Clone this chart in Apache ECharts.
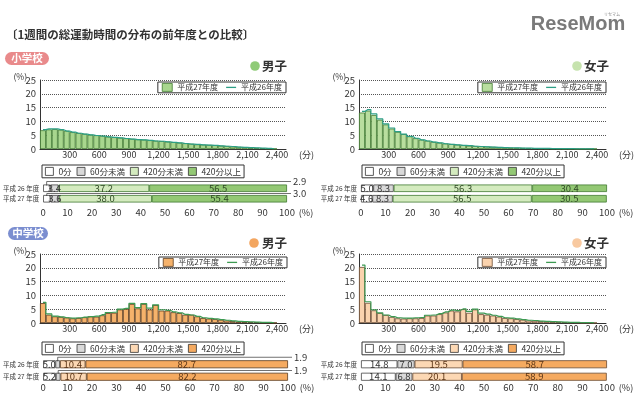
<!DOCTYPE html>
<html>
<head>
<meta charset="utf-8">
<script src="https://cdn.jsdelivr.net/npm/echarts@6/dist/echarts.min.js"></script>
<style>
  html, body { margin: 0; padding: 0; background: #fff; }
  #chart { width: 640px; height: 398px; }
</style>
</head>
<body>
<div id="chart"></div>
<script>
const FONT = '"Noto Sans CJK JP", "Noto Sans", sans-serif';
const BIN_MIN = 60;

// % of pupils per 60-minute bin of weekly exercise time (H27 bars, H26 line)
const elemBoys27 = [6.8, 7.1, 7.2, 7.0, 6.6, 6.1, 5.8, 5.5, 5.2, 5.0, 4.8, 4.5, 4.3, 4.1, 3.9, 3.7, 3.5, 3.4, 3.2, 3.0,
  2.9, 2.7, 2.5, 2.3, 2.1, 1.9, 1.7, 1.6, 1.5, 1.4, 1.2, 1.1, 0.9, 0.8, 0.7, 0.5, 0.4, 0.3, 0.2, 0.1];
const elemBoys26 = [7.0, 7.3, 7.3, 7.0, 6.5, 6.1, 5.7, 5.4, 5.1, 4.9, 4.7, 4.4, 4.2, 4.0, 3.8, 3.6, 3.4, 3.3, 3.1, 2.9,
  2.8, 2.6, 2.4, 2.2, 2.0, 1.8, 1.7, 1.5, 1.4, 1.3, 1.1, 1.0, 0.9, 0.7, 0.6, 0.5, 0.4, 0.3, 0.2, 0.1];
const elemGirls27 = [13.2, 13.9, 12.3, 10.6, 8.9, 7.4, 6.2, 5.4, 4.6, 3.9, 3.4, 3.0, 2.6, 2.3, 2.0, 1.8, 1.6, 1.4, 1.2, 1.1,
  1.0, 0.9, 0.8, 0.7, 0.6, 0.5, 0.45, 0.4, 0.35, 0.3, 0.25, 0.2, 0.2, 0.15, 0.1, 0.1, 0.05, 0.05, 0.05, 0.05];
const elemGirls26 = [13.6, 14.3, 12.7, 10.9, 9.1, 7.6, 6.3, 5.4, 4.6, 3.9, 3.3, 2.9, 2.5, 2.2, 1.9, 1.7, 1.5, 1.3, 1.2, 1.0,
  0.9, 0.8, 0.7, 0.6, 0.5, 0.45, 0.4, 0.35, 0.3, 0.25, 0.2, 0.2, 0.15, 0.1, 0.1, 0.1, 0.05, 0.05, 0.05, 0.05];
const juniorBoys27 = [7.2, 3.0, 2.4, 2.2, 2.0, 1.7, 1.8, 2.1, 2.4, 2.3, 2.8, 3.6, 3.7, 4.9, 5.1, 6.9, 5.3, 6.9, 4.9, 6.5,
  4.5, 4.5, 3.9, 3.6, 3.0, 3.0, 2.4, 1.8, 1.6, 1.4, 1.2, 0.9, 0.7, 0.5, 0.4, 0.3, 0.3, 0.2, 0.2, 0.1];
const juniorBoys26 = [7.5, 3.3, 2.5, 2.2, 1.9, 1.8, 1.9, 2.1, 2.3, 2.5, 3.0, 3.8, 3.9, 5.0, 5.3, 7.1, 5.6, 7.0, 5.4, 6.6,
  4.8, 4.6, 4.0, 3.7, 3.1, 2.9, 2.4, 1.9, 1.7, 1.5, 1.2, 1.0, 0.8, 0.6, 0.5, 0.4, 0.3, 0.2, 0.2, 0.1];
const juniorGirls27 = [20.3, 7.3, 4.6, 3.6, 2.9, 2.2, 1.7, 1.6, 1.7, 1.7, 1.8, 2.7, 2.7, 3.2, 3.8, 4.5, 4.2, 5.0, 3.7, 4.9,
  3.2, 3.0, 2.7, 2.3, 1.8, 1.7, 1.4, 1.2, 0.9, 0.8, 0.7, 0.6, 0.5, 0.4, 0.3, 0.2, 0.2, 0.1, 0.1, 0.05];
const juniorGirls26 = [21.0, 7.7, 4.8, 3.7, 2.9, 2.3, 1.9, 1.8, 1.8, 1.9, 2.0, 2.8, 2.9, 3.4, 4.0, 4.7, 4.5, 5.1, 4.2, 5.0,
  3.6, 3.2, 2.8, 2.4, 1.9, 1.8, 1.5, 1.2, 1.0, 0.9, 0.7, 0.6, 0.5, 0.4, 0.3, 0.2, 0.2, 0.1, 0.1, 0.05];

// share of pupils by weekly total, [H26, H27] per part
const shareRows = ['平成 26 年度', '平成 27 年度'];
const shareParts = ['0分', '60分未満', '420分未満', '420分以上'];
const elemBoysShare = [[2.9, 3.0], [3.4, 3.6], [37.2, 38.0], [56.5, 55.4]];
const elemGirlsShare = [[5.0, 4.6], [8.3, 8.3], [56.3, 56.5], [30.4, 30.5]];
const juniorBoysShare = [[5.0, 5.2], [1.9, 1.9], [10.4, 10.7], [82.7, 82.2]];
const juniorGirlsShare = [[14.8, 14.1], [7.0, 6.8], [19.5, 20.1], [58.7, 58.9]];

const yearNames = ['平成27年度', '平成26年度'];

const greenParts = ['#ffffff', '#d9d9d9', '#d4ebbf', '#93c874'];
const orangeParts = ['#ffffff', '#d9d9d9', '#fcd8b4', '#f5aa60'];

const panels = [
  { id: 'em', h27: elemBoys27, h26: elemBoys26, share: elemBoysShare,
    bar: '#a8d68e', edge: '#3f7a2f', line: '#2d9f86', parts: greenParts, txt: '#2f4a25',
    hist: { left: 40, top: 80, width: 246, height: 69 }, stack: { left: 43, top: 183, width: 244, height: 21 }, barH: 7.5,
    stackMargin: 4, histLegend: { right: 354, top: 82 }, stackLegend: { left: 42, top: 165 } },
  { id: 'ef', h27: elemGirls27, h26: elemGirls26, share: elemGirlsShare,
    bar: '#b9de9f', edge: '#3f7a2f', line: '#2d9f86', parts: greenParts, txt: '#2f4a25',
    hist: { left: 359, top: 80, width: 247, height: 69 }, stack: { left: 361, top: 183, width: 246, height: 21 }, barH: 7.5,
    stackMargin: 4, histLegend: { right: 34, top: 82 }, stackLegend: { left: 362, top: 165 } },
  { id: 'jm', h27: juniorBoys27, h26: juniorBoys26, share: juniorBoysShare,
    bar: '#f5b26b', edge: '#5b3a1c', line: '#3d9a52', parts: orangeParts, txt: '#5a3416',
    hist: { left: 40, top: 254, width: 246, height: 69 }, stack: { left: 43, top: 358, width: 245, height: 25 }, barH: 8,
    stackMargin: 0, histLegend: { right: 353, top: 257 }, stackLegend: { left: 42, top: 342 } },
  { id: 'jf', h27: juniorGirls27, h26: juniorGirls26, share: juniorGirlsShare,
    bar: '#fad3ae', edge: '#6b4a30', line: '#3d9a52', parts: orangeParts, txt: '#5a3416',
    hist: { left: 359, top: 254, width: 247, height: 69 }, stack: { left: 361, top: 358, width: 246, height: 25 }, barH: 8,
    stackMargin: 0, histLegend: { right: 34, top: 257 }, stackLegend: { left: 362, top: 342 } }
];

const grid = [], xAxis = [], yAxis = [], series = [], legend = [];
const stripName = n => n.split('|')[1];
const LINE_ICON = 'path://M0,0H10V1.3H0Z';

panels.forEach((p, n) => {
  const hg = n * 2, sg = n * 2 + 1;
  grid.push(Object.assign({}, p.hist), Object.assign({}, p.stack));

  xAxis.push({
    gridIndex: hg, type: 'value', min: 0, max: 2490, interval: 300,
    name: '(分)', nameLocation: 'end', nameGap: 13,
    nameTextStyle: { fontSize: 9, color: '#333', fontFamily: FONT, verticalAlign: 'top', padding: [1, 0, 0, 0] },
    axisLine: { lineStyle: { color: '#333', width: 1 } },
    axisTick: { show: false },
    splitLine: { show: false },
    axisLabel: { fontSize: 9, color: '#333', margin: 1, fontFamily: FONT,
      formatter: v => (v === 0 || v > 2400) ? '' : v.toLocaleString('en-US') }
  });
  yAxis.push({
    gridIndex: hg, type: 'value', min: 0, max: 25, interval: 5,
    axisLine: { show: true, lineStyle: { color: '#333', width: 1 } },
    axisTick: { show: false },
    splitLine: { lineStyle: { color: '#555', type: 'dotted', width: 1 } },
    axisLabel: { fontSize: 9.5, color: '#333', margin: 4, fontFamily: FONT }
  });
  xAxis.push({
    gridIndex: sg, type: 'value', min: 0, max: 100, interval: 10,
    name: '(%)', nameLocation: 'end', nameGap: 6,
    nameTextStyle: { fontSize: 9, color: '#333', fontFamily: FONT, verticalAlign: 'top', padding: [p.stackMargin, 0, 0, 0] },
    axisLine: { show: false }, axisTick: { show: false }, splitLine: { show: false },
    axisLabel: { fontSize: 9.5, color: '#333', margin: p.stackMargin, fontFamily: FONT }
  });
  yAxis.push({
    gridIndex: sg, type: 'category', data: shareRows, inverse: true,
    axisLine: { show: false }, axisTick: { show: false },
    axisLabel: { fontSize: 6.5, color: '#333', margin: 4, fontFamily: FONT }
  });

  const barName = p.id + '|' + yearNames[0];
  const lineName = p.id + '|' + yearNames[1];
  series.push({
    name: barName, type: 'bar', xAxisIndex: hg, yAxisIndex: hg, barWidth: '100%',
    data: p.h27.map((v, i) => [i * BIN_MIN + BIN_MIN / 2, v]),
    itemStyle: { color: p.bar, borderColor: p.edge, borderWidth: 0.8 }
  });
  series.push({
    name: lineName, type: 'line', xAxisIndex: hg, yAxisIndex: hg, step: 'middle', symbol: 'none', z: 5,
    symbolKeepAspect: true,
    data: p.h26.map((v, i) => [i * BIN_MIN + BIN_MIN / 2, v]),
    lineStyle: { color: p.line, width: 1.2 }, itemStyle: { color: p.line }
  });
  legend.push({
    data: [
      { name: barName, icon: 'rect', itemStyle: { borderColor: p.edge, borderWidth: 0.8 } },
      { name: lineName, icon: LINE_ICON }
    ],
    formatter: stripName, selectedMode: false,
    right: p.histLegend.right, top: p.histLegend.top, orient: 'horizontal',
    itemWidth: 10, itemHeight: 8, itemGap: 8, padding: [1, 4],
    borderColor: '#333', borderWidth: 1, backgroundColor: '#fff',
    textStyle: { fontSize: 8, color: '#333', fontFamily: FONT }
  });

  const partNames = shareParts.map(s => p.id + '|' + s);
  p.share.forEach((vals, k) => {
    series.push({
      name: partNames[k], type: 'bar', stack: p.id, xAxisIndex: sg, yAxisIndex: sg, barWidth: p.barH,
      data: vals,
      itemStyle: { color: p.parts[k], borderColor: k < 2 ? '#444' : p.edge, borderWidth: 0.8 },
      label: { show: true, position: 'inside', fontSize: 9.5, fontFamily: FONT,
        color: k < 2 ? '#333' : p.txt,
        formatter: d => d.value < 3.2 ? '' : d.value.toFixed(1) }
    });
  });
  legend.push({
    data: partNames.map(nm => ({ name: nm, icon: 'rect' })),
    formatter: stripName, selectedMode: false,
    left: p.stackLegend.left, top: p.stackLegend.top,
    itemWidth: 8, itemHeight: 8, itemGap: 5, padding: [2, 3],
    borderColor: '#333', borderWidth: 1,
    itemStyle: { borderColor: '#333', borderWidth: 0.8 },
    textStyle: { fontSize: 8.5, color: '#333', fontFamily: FONT }
  });
});

const chart = echarts.init(document.getElementById('chart'));
chart.setOption({
  animation: false,
  textStyle: { fontFamily: FONT },
  grid, xAxis, yAxis, series, legend
});

// static decoration: title, school badges, gender marks, logo
function txt(x, y, text, font, fill, align) {
  return { type: 'text', x: x, y: y, z: 10,
    style: { text: text, font: font, fill: fill, align: align || 'left', verticalAlign: 'middle',
      textAlign: align || 'left', textVerticalAlign: 'middle' } };
}
const decor = [
  txt(6, 35, '〔1週間の総運動時間の分布の前年度との比較〕', 'bold 11.5px ' + FONT, '#333'),
  { type: 'rect', shape: { x: 5, y: 52, width: 44, height: 13, r: 6.5 }, style: { fill: '#e98a8b' } },
  txt(27, 58.5, '小学校', 'bold 10.5px ' + FONT, '#fff', 'center'),
  { type: 'rect', shape: { x: 8, y: 227, width: 40, height: 13, r: 6.5 }, style: { fill: '#7b8ed0' } },
  txt(28, 233.5, '中学校', 'bold 10.5px ' + FONT, '#fff', 'center'),
  { type: 'circle', shape: { cx: 255, cy: 66, r: 4.8 }, style: { fill: '#8fcb77' } },
  txt(262, 66, '男子', 'bold 12.5px ' + FONT, '#333'),
  { type: 'circle', shape: { cx: 577, cy: 66, r: 4.8 }, style: { fill: '#c6e3ae' } },
  txt(584, 66, '女子', 'bold 12.5px ' + FONT, '#333'),
  { type: 'circle', shape: { cx: 254, cy: 243, r: 4.8 }, style: { fill: '#f3a660' } },
  txt(262, 243, '男子', 'bold 12.5px ' + FONT, '#333'),
  { type: 'circle', shape: { cx: 577, cy: 243, r: 4.8 }, style: { fill: '#f8c9a0' } },
  txt(584, 243, '女子', 'bold 12.5px ' + FONT, '#333'),
  txt(578, 24, 'ReseMom', 'bold 20px "Liberation Sans", sans-serif', '#7a7a7a', 'center'),
  txt(612, 14, 'リセマム', '4px ' + FONT, '#888', 'center')
];

const extras = [];
panels.forEach((p, n) => {
  // "(%)" unit beside the top of each histogram's value axis
  const hg = n * 2;
  const topLeft = chart.convertToPixel({ xAxisIndex: hg, yAxisIndex: hg }, [0, 25]);
  extras.push(txt(topLeft[0] - 13, topLeft[1] - 3, '(%)', '8.5px ' + FONT, '#333', 'right'));

  // leader-line labels for the thin segments, placed through the axis scales
  const g = n * 2 + 1;
  const finder = { xAxisIndex: g, yAxisIndex: g };
  const c0 = chart.convertToPixel(finder, [0, 0]);
  const c1 = chart.convertToPixel(finder, [0, 1]);
  const gapMid = (c0[1] + p.barH / 2 + c1[1] - p.barH / 2) / 2;
  let acc = [0, 0];
  p.share.forEach(vals => {
    vals.forEach((v, r) => {
      if (v < 3.2) {
        const mid = chart.convertToPixel(finder, [acc[r] + v / 2, r]);
        const end = chart.convertToPixel(finder, [100, r]);
        const top = mid[1] - p.barH / 2;
        const yy = r === 0 ? top - 3 : gapMid;
        extras.push({ type: 'polyline', z: 10,
          shape: { points: [[mid[0], top + 1], [mid[0], yy], [end[0] + 4, yy]] },
          style: { stroke: '#333', lineWidth: 0.7, fill: 'none' } });
        extras.push(txt(end[0] + 6, yy, v.toFixed(1), '9.5px ' + FONT, '#333'));
      }
    });
    acc = acc.map((a, r) => a + vals[r]);
  });
});

chart.setOption({ graphic: decor.concat(extras) });
</script>
</body>
</html>
